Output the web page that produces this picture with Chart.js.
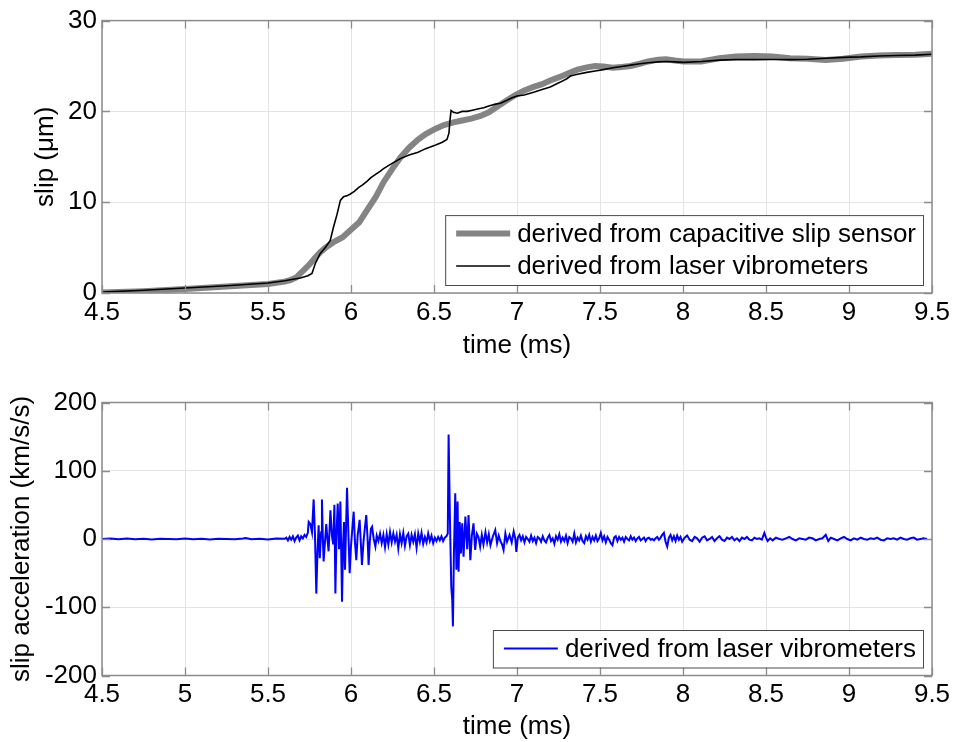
<!DOCTYPE html>
<html><head><meta charset="utf-8">
<script src="https://cdn.jsdelivr.net/npm/chart.js@4.4.1/dist/chart.umd.min.js"></script>
<style>
html,body{margin:0;padding:0;background:#fff;width:956px;height:742px;overflow:hidden}
#c1{position:absolute;left:0;top:0}
#c2{position:absolute;left:0;top:371px}
</style></head><body>
<canvas id="c1" width="956" height="371"></canvas>
<canvas id="c2" width="956" height="371"></canvas>
<script>
// ---- tick labels ----
const xTickLabels = [4.5, 5, 5.5, 6, 6.5, 7, 7.5, 8, 8.5, 9, 9.5];
const slipTickLabels = [0, 10, 20, 30];
const accelTickLabels = [-200, -100, 0, 100, 200];

// ---- series labels ----
const capLabel = 'derived from capacitive slip sensor';
const laserLabel = 'derived from laser vibrometers';

// ---- slip from capacitive sensor (time ms, slip µm) ----
const capTime = [4.5,4.75,5.0,5.25,5.5,5.6,5.634,5.67,5.695,5.72,5.755,5.785,5.815,5.85,5.895,5.95,5.996,6.05,6.096,6.15,6.196,6.25,6.297,6.35,6.404,6.45,6.51,6.56,6.617,6.67,6.724,6.78,6.83,6.88,6.937,6.99,7.044,7.1,7.151,7.2,7.258,7.31,7.364,7.42,7.471,7.52,7.578,7.63,7.684,7.74,7.791,7.85,7.898,7.95,8.005,8.11,8.218,8.32,8.43,8.538,8.645,8.752,8.858,8.965,9.072,9.18,9.285,9.4,9.5];
const capSlip = [0.05,0.2,0.45,0.72,1.0,1.25,1.42,1.7,2.15,2.6,3.25,3.9,4.5,5.05,5.6,6.15,6.9,7.8,9.1,10.6,12.2,13.7,14.9,16.0,16.9,17.5,18.1,18.5,18.8,19.0,19.2,19.5,19.9,20.5,21.2,21.8,22.3,22.7,23.0,23.4,23.8,24.2,24.6,24.85,25.0,24.95,24.8,24.9,25.0,25.25,25.5,25.7,25.75,25.6,25.5,25.5,25.85,26.05,26.1,26.05,25.85,25.8,25.65,25.8,26.05,26.15,26.2,26.25,26.35];

// ---- slip from laser vibrometers (time ms, slip µm) ----
const laserTime = [4.5,4.75,5.0,5.25,5.5,5.6,5.695,5.74,5.765,5.785,5.815,5.845,5.875,5.895,5.915,5.936,5.955,5.975,5.996,6.02,6.045,6.07,6.096,6.12,6.15,6.175,6.196,6.25,6.297,6.35,6.404,6.45,6.51,6.55,6.578,6.59,6.596,6.603,6.617,6.64,6.67,6.7,6.724,6.77,6.8,6.83,6.87,6.9,6.937,6.97,7.0,7.044,7.1,7.151,7.2,7.258,7.3,7.322,7.364,7.42,7.471,7.52,7.578,7.63,7.684,7.74,7.791,7.85,7.898,7.95,8.005,8.11,8.218,8.32,8.43,8.538,8.645,8.75,8.858,8.965,9.072,9.18,9.285,9.4,9.5];
const laserSlip = [0.1,0.3,0.55,0.8,1.1,1.35,1.65,1.9,2.15,3.25,4.35,5.0,5.8,7.3,8.6,10.2,10.6,10.7,10.9,11.2,11.6,11.9,12.3,12.7,13.1,13.4,13.7,14.3,14.8,15.2,15.5,15.9,16.3,16.6,16.9,17.6,19.0,20.1,19.9,19.8,20.0,20.0,20.1,20.3,20.4,20.6,20.8,20.9,21.2,21.5,21.7,21.8,22.1,22.4,22.7,23.2,23.6,23.9,24.1,24.3,24.45,24.6,24.8,24.95,25.1,25.25,25.35,25.45,25.5,25.45,25.4,25.5,25.65,25.7,25.7,25.72,25.7,25.75,25.85,25.95,26.0,26.1,26.15,26.2,26.3];

// ---- slip acceleration from laser vibrometers (time ms, km/s/s) ----
const accelTime = [4.5,4.55,4.6,4.65,4.7,4.75,4.8,4.85,4.9,4.95,5.0,5.05,5.1,5.15,5.2,5.25,5.3,5.35,5.365,5.4,5.45,5.5,5.55,5.6,
5.61,5.62,5.63,5.64,5.65,5.66,5.67,5.68,5.69,5.70,5.71,5.72,5.73,5.74,5.745,5.755,5.765,5.775,5.783,5.791,5.798,5.805,5.812,5.82,5.825,5.83,5.835,5.843,5.851,5.858,5.865,5.876,5.885,5.893,5.9,5.906,5.913,5.92,5.928,5.936,5.946,5.952,5.958,5.964,5.976,5.984,5.992,6.0,6.008,6.016,6.024,6.032,6.04,6.052,6.058,6.066,6.075,6.083,6.092,6.1,6.106,6.113,6.12,6.127,6.137,6.147,
6.155,6.165,6.175,6.185,6.195,6.205,6.215,6.225,6.235,6.245,6.255,6.265,6.275,6.285,6.295,6.305,6.315,6.325,6.335,6.345,6.355,6.365,6.375,6.385,6.395,6.405,6.415,6.425,6.435,6.445,6.455,6.465,6.475,6.485,6.495,6.505,6.515,6.525,6.535,6.545,6.555,6.565,6.575,6.583,
6.588,6.596,6.604,6.61,6.614,6.62,6.628,6.635,6.642,6.648,6.655,6.662,6.67,6.678,6.689,6.70,6.708,6.719,6.728,6.738,6.748,6.758,6.768,6.778,6.788,6.798,6.81,6.82,6.83,6.84,6.855,6.869,6.88,6.89,6.90,6.91,6.919,6.93,6.94,6.955,6.968,6.98,6.99,6.996,7.005,
7.015,7.025,7.035,7.045,7.055,7.065,7.075,7.085,7.095,7.105,7.115,7.125,7.135,7.145,7.155,7.165,7.175,7.185,7.195,7.205,7.215,7.225,7.235,7.245,7.255,7.265,7.275,7.285,7.295,7.305,7.315,7.325,7.335,7.345,7.355,7.365,7.375,7.385,7.395,7.405,7.415,7.425,7.435,7.445,7.455,7.465,7.475,7.485,7.495,7.505,7.515,7.525,7.535,7.545,7.555,7.565,7.575,7.585,7.595,7.605,7.615,7.625,7.635,7.645,7.655,7.665,7.675,7.685,7.695,7.705,7.715,7.725,7.735,7.745,7.755,7.765,7.775,7.785,7.795,7.805,7.815,7.825,7.835,7.845,7.855,7.865,7.875,7.885,7.895,7.905,7.915,7.925,7.935,7.945,7.955,7.965,7.975,7.985,7.995,
8.01,8.025,8.04,8.055,8.07,8.085,8.1,8.115,8.13,8.145,8.16,8.175,8.19,8.205,8.22,8.235,8.25,8.265,8.28,8.295,8.31,8.325,8.34,8.355,8.37,8.385,8.4,8.415,8.43,8.445,8.46,8.475,8.49,8.5,8.51,8.525,8.54,8.56,8.58,8.6,8.62,8.64,8.66,8.68,8.7,8.72,8.74,8.76,8.78,8.8,8.82,8.84,8.86,8.875,8.89,8.91,8.93,8.95,8.97,8.99,9.01,9.03,9.05,9.07,9.09,9.11,9.13,9.15,9.17,9.19,9.21,9.23,9.25,9.27,9.29,9.31,9.33,9.35,9.37,9.39,9.41,9.43,9.45,9.47,9.49,9.5];
const accelValue = [0,0.6,-0.5,0.8,-0.4,0.5,-0.8,0.4,0,-0.5,0.7,-0.4,0.3,-0.6,0.5,0,-0.3,0.8,1.5,-0.5,0.4,-0.6,0.7,0.3,
2,-2,3,-1,4,-3,2,5,-2,4,1,6,3,9,25,22,10,58,5,-80,-20,20,-28,10,58,5,-33,-5,22,0,-18,42,5,-8,50,-80,10,52,-15,55,-92,-10,25,-45,75,10,-50,-10,15,40,-5,-31,5,28,0,-38,-5,15,35,0,-38,-5,15,18,0,-11,
5,-3,8,-6,6,-12,7,-8,10,-5,8,-4,6,-14,7,-6,9,-10,4,8,-9,6,-4,7,-13,8,-4,9,-7,3,-5,8,-3,5,-6,2,-3,3,-2,4,-3,2,4,8,
153,30,-70,-90,-128,-20,67,-45,55,-48,25,-21,23,-26,33,-15,35,-31,5,23,-16,8,3,-11,6,-8,10,-5,7,-9,4,13,-6,5,-3,-8,-16,8,-4,6,-5,11,0,-19,2,
6,-2,4,-5,3,0,-4,5,-3,2,-6,3,1,-4,4,-2,-5,2,6,-3,1,-7,4,-1,7,-4,2,-3,5,-6,3,1,-4,8,-5,2,-2,5,-3,-6,4,-1,6,-4,3,-2,5,-3,1,9,-2,4,-5,3,-1,-6,-9,2,4,-3,3,-1,2,-4,3,0,-2,4,-1,2,-3,1,3,-2,0,2,-3,1,2,-1,0,-2,1,3,-1,2,6,9,-4,-11,2,6,-2,4,-3,5,-1,3,
-4,2,5,-1,-3,3,1,-4,2,4,-2,0,3,-3,1,4,-1,-3,2,0,3,-2,1,-3,2,0,3,-1,-2,2,0,1,-1,9,2,-3,1,-2,2,0,-1,1,3,0,-2,1,0,-1,2,1,-2,0,1,6,-3,2,0,-2,1,3,0,-2,1,-1,2,0,-1,1,0,2,-1,-2,1,0,1,-1,2,0,-1,1,2,-1,0,1,0];

const FONT = '"Liberation Sans", Arial, Helvetica, sans-serif';
const toPts = (xs, ys) => xs.map((x, i) => ({x: x, y: ys[i]}));

const framePlugin = {
  id: 'frameLegend',
  afterDraw(chart, args, opts) {
    const {ctx, chartArea: a, scales} = chart;
    ctx.save();
    // inward tick marks
    ctx.strokeStyle = '#8c8c8c';
    ctx.lineWidth = 1.3;
    const L = 8;
    ctx.beginPath();
    scales.x.ticks.forEach(t => {
      const px = Math.round(scales.x.getPixelForValue(t.value)) + 0.5;
      ctx.moveTo(px, a.bottom); ctx.lineTo(px, a.bottom - L);
      ctx.moveTo(px, a.top); ctx.lineTo(px, a.top + L);
    });
    scales.y.ticks.forEach(t => {
      const py = Math.round(scales.y.getPixelForValue(t.value)) + 0.5;
      ctx.moveTo(a.left, py); ctx.lineTo(a.left + L, py);
      ctx.moveTo(a.right, py); ctx.lineTo(a.right - L, py);
    });
    ctx.stroke();
    // frame
    ctx.lineWidth = 1.5;
    ctx.strokeStyle = '#8c8c8c';
    ctx.strokeRect(a.left, a.top, a.right - a.left, a.bottom - a.top);
    // legend
    const items = opts.items.map(i => chart.data.datasets[i]);
    ctx.font = '26px ' + FONT;
    const tw = Math.max(...items.map(d => ctx.measureText(d.label).width));
    const rowH = 32.4;
    const boxW = 72 + tw + 7;
    const boxH = 37.5 + (items.length - 1) * rowH;
    const right = a.right - 9;
    const bottom = a.bottom - 8;
    const left = right - boxW, top = bottom - boxH;
    ctx.fillStyle = '#fff';
    ctx.fillRect(left, top, boxW, boxH);
    ctx.strokeStyle = '#4a4a4a';
    ctx.lineWidth = 1;
    ctx.strokeRect(left + 0.5, top + 0.5, boxW, boxH);
    items.forEach((d, k) => {
      const y = top + 18.5 + k * rowH;
      ctx.strokeStyle = d.borderColor;
      ctx.lineWidth = d.borderWidth;
      ctx.beginPath();
      ctx.moveTo(left + 11, y); ctx.lineTo(left + 65, y);
      ctx.stroke();
      ctx.fillStyle = '#000';
      ctx.textBaseline = 'middle';
      ctx.textAlign = 'left';
      ctx.fillText(d.label, left + 72, y + 1);
    });
    ctx.restore();
  }
};

function makeOptions(yTicks, yMin, yMax, yTitle, yTitlePad, topPad, xAxisH, xTitlePad) {
  return {
    responsive: false,
    animation: false,
    devicePixelRatio: 1,
    layout: {padding: {top: topPad, right: 24, left: 0, bottom: 0}},
    plugins: {legend: {display: false}, tooltip: {enabled: false}},
    elements: {point: {radius: 0}, line: {tension: 0}},
    scales: {
      x: {
        type: 'linear', min: 4.5, max: 9.5,
        afterBuildTicks: s => { s.ticks = xTickLabels.map(v => ({value: v})); },
        afterFit: s => { s.height = xAxisH; },
        grid: {color: '#e4e4e4', lineWidth: 1, drawTicks: false},
        border: {display: false},
        ticks: {padding: 4, color: '#000', font: {family: FONT, size: 26, lineHeight: 1.2},
                autoSkip: false, maxRotation: 0, callback: v => String(v)},
        title: {display: true, text: 'time (ms)', color: '#000',
                font: {family: FONT, size: 26, lineHeight: 1.2}, padding: {top: 0, bottom: xTitlePad}}
      },
      y: {
        type: 'linear', min: yMin, max: yMax,
        afterBuildTicks: s => { s.ticks = yTicks.map(v => ({value: v})); },
        afterFit: s => { s.width = 102; },
        grid: {color: '#e4e4e4', lineWidth: 1, drawTicks: false},
        border: {display: false},
        ticks: {padding: 5, color: '#000', font: {family: FONT, size: 26, lineHeight: 1.2},
                autoSkip: false, callback: v => String(v)},
        title: {display: true, text: yTitle, color: '#000',
                font: {family: FONT, size: 26, lineHeight: 1.2}, padding: {top: yTitlePad, bottom: 0}}
      }
    }
  };
}

const opt1 = makeOptions(slipTickLabels, 0, 30, 'slip (\u03bcm)', 30, 19, 78, 10);
opt1.plugins.frameLegend = {items: [0, 1]};
new Chart(document.getElementById('c1'), {
  type: 'line',
  data: {datasets: [
    {label: capLabel, data: toPts(capTime, capSlip), borderColor: '#848484', borderWidth: 6, order: 2, fill: false},
    {label: laserLabel, data: toPts(laserTime, laserSlip), borderColor: '#000000', borderWidth: 1.6, order: 1, fill: false}
  ]},
  options: opt1,
  plugins: [framePlugin]
});

const opt2 = makeOptions(accelTickLabels, -200, 200, 'slip acceleration (km/s/s)', 6, 31.5, 66.5, 0);
opt2.plugins.frameLegend = {items: [0]};
new Chart(document.getElementById('c2'), {
  type: 'line',
  data: {datasets: [
    {label: laserLabel, data: toPts(accelTime, accelValue), borderColor: '#0000ff', borderWidth: 2, fill: false}
  ]},
  options: opt2,
  plugins: [framePlugin]
});
</script>
</body></html>
